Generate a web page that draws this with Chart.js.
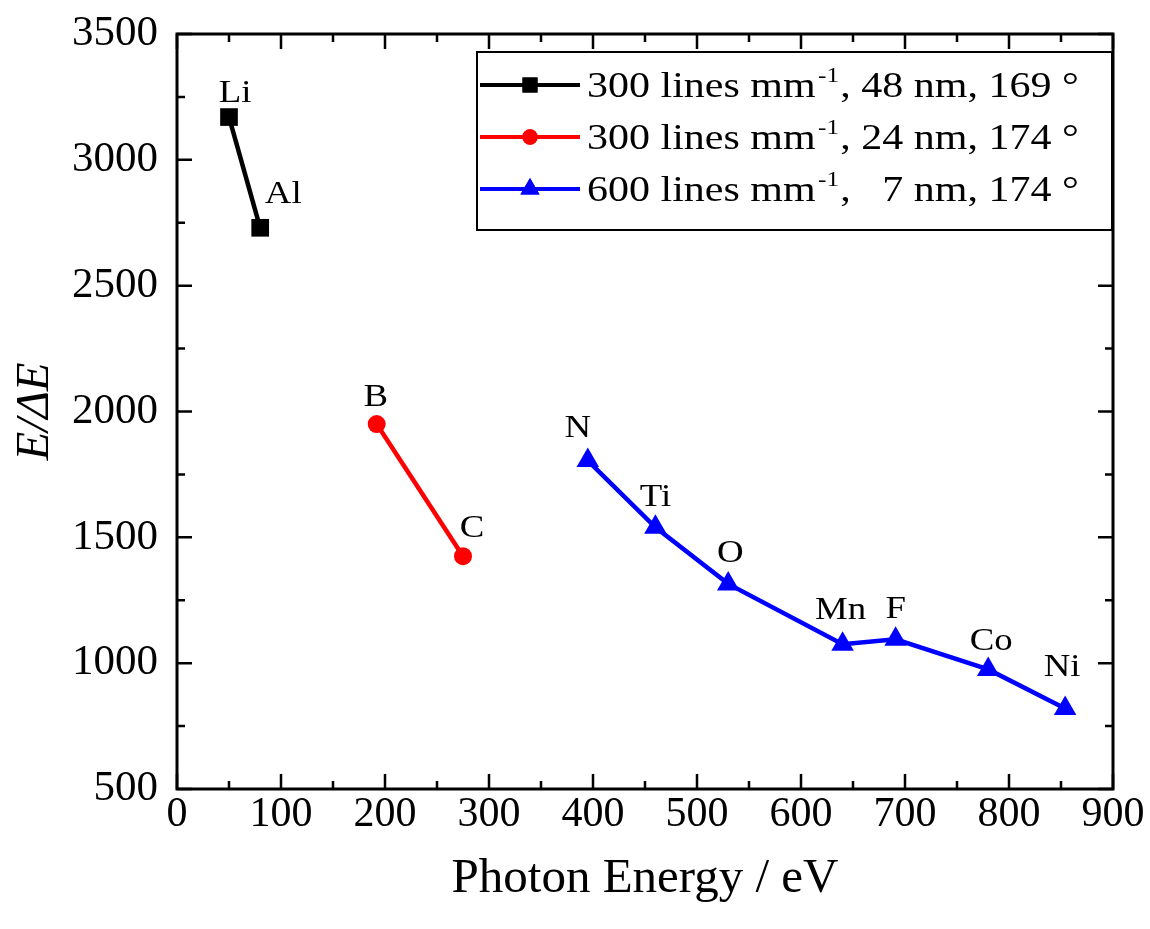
<!DOCTYPE html>
<html>
<head>
<meta charset="utf-8">
<script src="https://cdn.jsdelivr.net/npm/chart.js@4"></script>
<style>
  html, body { margin: 0; padding: 0; background: #fff; }
</style>
</head>
<body>
<canvas id="res" width="1150" height="929"></canvas>
<script>
// resolving power of the three gratings vs photon energy
var namesA = ['Li', 'Al'];
var energyA = [50, 80];
var powerA = [3170, 2730];

var namesB = ['B', 'C'];
var energyB = [192, 275];
var powerB = [1950, 1425];

var namesC = ['N', 'Ti', 'O', 'Mn', 'F', 'Co', 'Ni'];
var energyC = [395, 460, 530, 640, 691, 780, 854];
var powerC = [1805, 1540, 1315, 1075, 1095, 975, 820];

var seriesLabels = [
	'300 lines mm^-1, 48 nm, 169 °',
	'300 lines mm^-1, 24 nm, 174 °',
	'600 lines mm^-1,   7 nm, 174 °'
];

var xTicks = [0, 100, 200, 300, 400, 500, 600, 700, 800, 900];
var yTicks = [500, 1000, 1500, 2000, 2500, 3000, 3500];

var SERIF = '"Liberation Serif", "Times New Roman", serif';
Chart.defaults.font.family = SERIF;
Chart.defaults.color = '#000';

function pts(xs, ys){
	var out = [];
	for(var i=0;i<xs.length;i++) out.push({x:xs[i], y:ys[i]});
	return out;
}

// frame + inward ticks on all four sides (major and minor)
var frameTicks = {
	id:'frameTicks',
	afterDatasetsDraw:function(chart){
		var ctx = chart.ctx, a = chart.chartArea;
		var sx = chart.scales.x, sy = chart.scales.y;
		ctx.save();
		ctx.strokeStyle = '#000';
		ctx.lineWidth = 2.5;
		ctx.beginPath();
		var xs = xTicks[1]-xTicks[0];
		for(var v=xTicks[0]; v<=xTicks[xTicks.length-1]; v+=xs/2){
			var px = sx.getPixelForValue(v);
			var len = (v % xs === 0) ? 15 : 8;
			ctx.moveTo(px, a.bottom); ctx.lineTo(px, a.bottom-len);
			ctx.moveTo(px, a.top); ctx.lineTo(px, a.top+len);
		}
		var ys = yTicks[1]-yTicks[0];
		for(var w=yTicks[0]; w<=yTicks[yTicks.length-1]; w+=ys/2){
			var py = sy.getPixelForValue(w);
			var l2 = (w % ys === 0) ? 15 : 8;
			ctx.moveTo(a.left, py); ctx.lineTo(a.left+l2, py);
			ctx.moveTo(a.right, py); ctx.lineTo(a.right-l2, py);
		}
		ctx.stroke();
		ctx.lineWidth = 3;
		ctx.strokeRect(a.left, a.top, a.right-a.left, a.bottom-a.top);
		ctx.restore();
	}
};

// element names next to each point
var edgeLabels = {
	id:'edgeLabels',
	afterDatasetsDraw:function(chart, args, opts){
		var ctx = chart.ctx;
		ctx.save();
		ctx.fillStyle = '#000';
		ctx.font = opts.size + 'px ' + SERIF;
		ctx.textAlign = 'center';
		ctx.textBaseline = 'alphabetic';
		chart.data.datasets.forEach(function(ds, di){
			var meta = chart.getDatasetMeta(di);
			meta.data.forEach(function(el, i){
				var off = opts.offsets[di][i];
				ctx.save();
				ctx.translate(el.x+off[0], el.y+off[1]);
				ctx.scale(opts.stretch, 1);
				ctx.fillText(ds.names[i], 0, 0);
				ctx.restore();
			});
		});
		ctx.restore();
	}
};

// boxed legend with superscript exponent
var boxLegend = {
	id:'boxLegend',
	afterDraw:function(chart, args, opts){
		var ctx = chart.ctx, a = chart.chartArea;
		var bw = 635, bh = 178;
		var left = a.right - bw - 1, top = a.top + 18;
		ctx.save();
		ctx.fillStyle = '#fff';
		ctx.fillRect(left, top, bw, bh);
		ctx.strokeStyle = '#000';
		ctx.lineWidth = 2;
		ctx.strokeRect(left, top, bw, bh);
		chart.data.datasets.forEach(function(ds, i){
			var cy = top + 33 + i*52;
			ctx.strokeStyle = ds.borderColor;
			ctx.lineWidth = 4;
			ctx.beginPath();
			ctx.moveTo(left+3, cy); ctx.lineTo(left+103, cy);
			ctx.stroke();
			ctx.fillStyle = ds.backgroundColor;
			Chart.helpers.drawPoint(ctx, {pointStyle:ds.pointStyle, radius:ds.pointRadius*0.85, borderWidth:0}, left+53, cy);
			ctx.fill();
			var parts = seriesLabels[i].split('^-1');
			ctx.fillStyle = '#000';
			ctx.textBaseline = 'alphabetic';
			ctx.textAlign = 'left';
			ctx.save();
			ctx.translate(left+110, cy+12);
			ctx.scale(opts.stretch, 1);
			ctx.font = opts.size + 'px ' + SERIF;
			ctx.fillText(parts[0], 0, 0);
			var x = ctx.measureText(parts[0]).width + 2;
			ctx.font = Math.round(opts.size*0.6) + 'px ' + SERIF;
			ctx.fillText('-1', x, -opts.size*0.42);
			x += ctx.measureText('-1').width + 1;
			ctx.font = opts.size + 'px ' + SERIF;
			ctx.fillText(parts[1], x, 0);
			ctx.restore();
		});
		ctx.restore();
	}
};

function plain(v){ return String(v); }

var chart = new Chart(document.getElementById('res').getContext('2d'),{
	type:'line',
	data:{
		datasets:[{
			label:seriesLabels[0],
			names:namesA,
			data:pts(energyA, powerA),
			borderColor:'#000',
			backgroundColor:'#000',
			borderWidth:4.5,
			pointStyle:'rect',
			pointRadius:12.5,
			pointBorderWidth:0
		},{
			label:seriesLabels[1],
			names:namesB,
			data:pts(energyB, powerB),
			borderColor:'#ff0000',
			backgroundColor:'#ff0000',
			borderWidth:4.5,
			pointStyle:'circle',
			pointRadius:9,
			pointBorderWidth:0
		},{
			label:seriesLabels[2],
			names:namesC,
			data:pts(energyC, powerC),
			borderColor:'#0000ff',
			backgroundColor:'#0000ff',
			borderWidth:4.5,
			pointStyle:'triangle',
			pointRadius:13,
			pointBorderWidth:0
		}]
	},
	options:{
		responsive:false,
		animation:false,
		layout:{padding:{top:34, right:37, left:0, bottom:0}},
		plugins:{
			legend:{display:false},
			tooltip:{enabled:false},
			edgeLabels:{
				size:32,
				stretch:1.15,
				offsets:[
					[[6,-15],[23,-25]],
					[[-1,-18],[9,-19]],
					[[-10,-24],[0,-21],[2,-22],[-2,-25],[0,-21],[3,-19],[-3,-32]]
				]
			},
			boxLegend:{size:35, stretch:1.2}
		},
		scales:{
			x:{
				type:'linear',
				min:xTicks[0],
				max:xTicks[xTicks.length-1],
				grid:{display:false, drawTicks:false},
				border:{display:false},
				afterBuildTicks:function(s){ s.ticks = xTicks.map(function(v){ return {value:v}; }); },
				afterFit:function(s){ s.height = 140; s.paddingLeft = 0; s.paddingRight = 0; },
				ticks:{font:{size:42}, padding:1, maxRotation:0, autoSkip:false, callback:plain},
				title:{display:true, text:'Photon Energy / eV', font:{size:49}, padding:{top:0, bottom:20}}
			},
			y:{
				type:'linear',
				min:yTicks[0],
				max:yTicks[yTicks.length-1],
				grid:{display:false, drawTicks:false},
				border:{display:false},
				afterBuildTicks:function(s){ s.ticks = yTicks.map(function(v){ return {value:v}; }); },
				afterFit:function(s){ s.width = 177; s.paddingTop = 0; s.paddingBottom = 0; },
				ticks:{font:{size:43}, padding:19, callback:plain},
				title:{display:true, text:'E/ΔE', font:{size:47, style:'italic'}, padding:{top:7, bottom:0}}
			}
		}
	},
	plugins:[frameTicks, edgeLabels, boxLegend]
});
</script>
</body>
</html>
